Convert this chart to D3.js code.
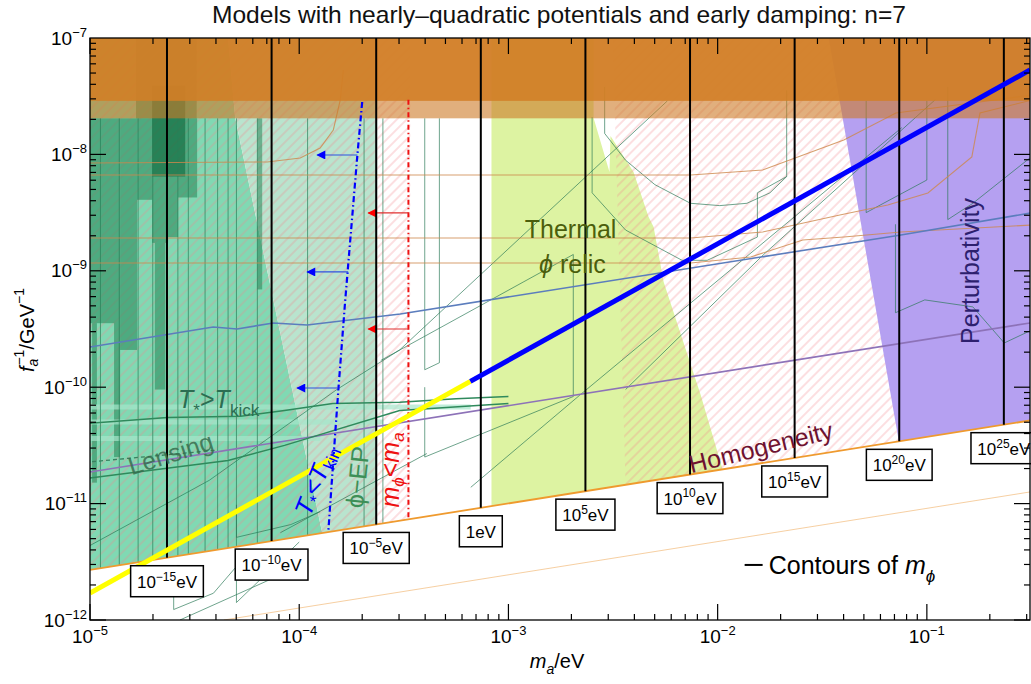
<!DOCTYPE html>
<html>
<head>
<meta charset="utf-8">
<script src="https://cdn.jsdelivr.net/npm/d3@7/dist/d3.min.js"></script>
<style>
  body { margin: 0; background: #fff; }
  svg text { font-family: "Liberation Sans", Arial, "DejaVu Sans", sans-serif; }
</style>
</head>
<body>
<svg id="chart" width="1031" height="684"></svg>
<script>
// Every point is [log10(m_a / eV), log10(f_a^-1 * GeV)].

const titleText = "Models with nearly\u2013quadratic potentials and early damping: n=7";
const xDecades = [-5, -4, -3, -2, -1];
const yDecades = [-12, -11, -10, -9, -8, -7];

// contours of m_phi (label exponent, m_a position, end point on the homogeneity edge)
const mphiExponents = [-15, -10, -5, 0, 5, 10, 15, 20, 25];
const mphiContourMa = [-4.632, -4.132, -3.632, -3.132, -2.632, -2.132, -1.632, -1.132, -0.632];
const mphiContourEnd = [-11.465, -11.322, -11.179, -11.036, -10.893, -10.751, -10.608, -10.465, -10.322];

// benchmark line (yellow part / blue part)
const benchmarkYellow = [[-5, -11.768], [-3.182, -9.950]];
const benchmarkBlue = [[-3.182, -9.950], [-0.507, -7.275]];

// constraint edges
const homogeneityEdge = [[-5, -11.570], [-0.507, -10.286]];
const faintEdge = [[-4.36, -12.0], [-0.507, -10.900]];
const purpleCurve = [[-5, -10.728], [-0.507, -9.448]];
const steelCurve = [[-5, -9.655], [-4.411, -9.483], [-4.297, -9.500], [-4.124, -9.448], [-3.962, -9.466],
  [-3.517, -9.371], [-1.124, -8.692], [-0.502, -8.503]];

// filled regions
const mintRegion = [[-5, -7], [-4.34, -7], [-4.306, -7.687], [-3.890, -11.253], [-5, -11.570]];
const paleRegion = [[-4.34, -7], [-3.627, -7], [-3.627, -11.178], [-3.890, -11.253], [-4.306, -7.687]];
const thermalRegion = [[-3.081, -7], [-2.593, -7], [-2.593, -7.687], [-2.517, -8.151], [-2.512, -7.842],
  [-2.402, -8.151], [-2.330, -8.538], [-2.306, -8.624], [-2.258, -9.096], [-2.081, -10.067],
  [-1.976, -10.706], [-3.081, -11.022]];
const perturbRegion = [[-1.469, -7], [-0.507, -7], [-0.507, -10.286], [-1.134, -10.465]];
const hatchLeft = [[-5, -7], [-3.469, -7], [-3.469, -11.133], [-5, -11.570]];
const hatchRight = [[-2.502, -7], [-0.507, -7], [-0.507, -10.286], [-2.440, -10.839]];
const bandLight = [-7, -7.69];
const bandDark = [-7, -7.54];

// darker excluded strips on the left: [ma0, ma1, top, bottom]
const streaksMid = [
  [-5, -4.885, -7.69, -9.45], [-4.99, -4.967, -9.45, -10.82], [-4.885, -4.856, -7.69, -10.60],
  [-4.856, -4.775, -7.69, -9.68], [-4.775, -4.703, -7.69, -8.39], [-4.703, -4.627, -7.69, -8.76],
  [-4.69, -4.64, -8.76, -10.02], [-4.627, -4.579, -7.69, -8.71], [-4.579, -4.488, -7.69, -8.37],
  [-4.20, -4.177, -7.69, -9.16], [-4.78, -4.49, -7.0, -7.69]
];
const streaksDark = [[-4.703, -4.545, -7.41, -8.19]];

// thin green contours
const greenVerticalMa = [-4.95, -4.86, -4.77, -4.70, -4.58, -4.53, -4.45, -4.39, -4.34, -4.30, -4.20, -3.96, -3.69, -3.60];
const greenVerticalTop = -7.69;
const greenVerticalEnd = [-11.556, -11.530, -11.504, -11.484, -11.450, -11.436, -11.413, -11.396, -11.381, -11.370, -11.342, -11.273, -11.196, -11.170];
const greenPaths = [
  [[-3.40, -7.69], [-3.40, -9.85], [-3.33, -9.79], [-3.33, -7.69]],
  [[-5, -11.36], [-4.43, -10.80], [-3.82, -10.02], [-3.52, -9.68], [-2.24, -7.54]],
  [[-3.40, -10.00], [-3.40, -10.60], [-2.69, -10.08], [-2.69, -8.86], [-3.61, -9.77]],
  [[-2.54, -7.42], [-2.54, -7.82], [-2.44, -8.05], [-2.30, -8.26], [-2.13, -8.42], [-1.99, -8.44],
    [-1.86, -8.42], [-1.75, -8.33], [-1.67, -8.19], [-1.67, -7.45]],
  [[-2.60, -7.68], [-2.60, -8.33], [-2.44, -8.65], [-2.17, -8.91], [-2.05, -8.91], [-1.81, -8.71],
    [-1.81, -8.33], [-1.67, -8.19]],
  [[-1.12, -7.77], [-2.66, -10.07], [-3.18, -10.86]],
  [[-2.44, -10.02], [-1.78, -8.86], [-0.96, -7.53]],
  [[-1.29, -7.54], [-1.29, -8.50], [-1.00, -8.22], [-1.00, -7.54]],
  [[-0.90, -7.42], [-0.90, -8.56], [-0.78, -8.42], [-0.50, -8.02]],
  [[-1.15, -8.60], [-1.15, -9.36], [-1.01, -9.25], [-0.78, -9.31], [-0.63, -9.62], [-0.50, -9.51]],
  [[-4.60, -11.53], [-4.60, -11.91], [-4.41, -11.77], [-4.30, -11.54], [-4.30, -11.85], [-4.00, -11.33]],
  [[-4.57, -12.0], [-4.00, -11.54]],
  [[-4.30, -11.01], [-4.30, -11.29], [-4.04, -11.18], [-3.90, -11.07]],
  [[-4.09, -11.25], [-3.39, -10.57]]
];

// thin orange-brown contours
const brownCurves = [
  [[-5, -8.074], [-4.153, -8.065], [-3.995, -8.031], [-3.900, -7.945], [-3.837, -7.790], [-3.804, -7.533], [-3.789, -7.275]],
  [[-5, -8.177], [-2.129, -8.177], [-1.785, -8.134], [-1.397, -7.876], [-1.148, -7.644], [-0.498, -7.49]],
  [[-5, -8.718], [-2.129, -8.718], [-1.785, -8.667], [-1.416, -8.521], [-1.187, -8.435], [-0.995, -8.332],
    [-0.785, -8.022], [-0.746, -7.644], [-0.498, -7.533]],
  [[-5, -8.933], [-2.129, -8.933], [-1.842, -8.881], [-1.593, -8.735], [-1.397, -8.710], [-1.124, -8.667], [-0.498, -8.607]]
];

// T_* > T_kick contours and lensing edge
const kickUpper = [[-5, -10.31], [-4.63, -10.26], [-4.28, -10.25], [-4.07, -10.20], [-3.84, -10.14], [-3.52, -10.13], [-3.25, -10.10], [-3.00, -10.08]];
const kickLower = [[-5, -10.78], [-4.34, -10.63], [-4.07, -10.50], [-3.52, -10.20], [-3.00, -10.14]];
const lensingEdge = [[-4.99, -10.64], [-4.39, -10.54]];
const paleStripes = [[-10.17, -5, -3.18], [-10.30, -5, -3.60], [-10.44, -5, -3.90]];

// T_* < T_kin and m_phi < m_a boundaries, with arrows [from, to, level]
const tkinCurve = [[-3.699, -7.550], [-3.722, -8.005], [-3.746, -8.521], [-3.780, -9.251], [-3.813, -10.024], [-3.837, -10.625], [-3.861, -11.244]];
const blueArrows = [[-3.722, -3.914, -8.005], [-3.766, -3.962, -9.010], [-3.813, -4.010, -10.007]];
const maBoundCurve = [[-3.478, -7.53], [-3.478, -11.135]];
const redArrows = [[-3.478, -3.670, -8.503], [-3.478, -3.670, -9.500]];

// ---------------------------------------------------------------------------
const svg = d3.select("#chart");
const X0 = 90, X1 = 1030, Y0 = 38, Y1 = 620;
const x = d3.scaleLog().domain([1e-5, Math.pow(10, -0.507)]).range([X0, X1]);
const y = d3.scaleLog().domain([1e-12, 1e-7]).range([Y1, Y0]);
const px = v => x(Math.pow(10, v));
const py = v => y(Math.pow(10, v));
const line = d3.line().x(d => px(d[0])).y(d => py(d[1]));
const poly = pts => line(pts) + "Z";

const defs = svg.append("defs");
defs.append("clipPath").attr("id", "plotClip")
  .append("rect").attr("x", X0).attr("y", Y0).attr("width", X1 - X0).attr("height", Y1 - Y0);
const hatch = defs.append("pattern").attr("id", "hatch").attr("patternUnits", "userSpaceOnUse")
  .attr("width", 7).attr("height", 7).attr("patternTransform", "rotate(45)");
hatch.append("line").attr("x1", 1).attr("y1", 0).attr("x2", 1).attr("y2", 7)
  .attr("stroke", "rgba(245,130,140,0.32)").attr("stroke-width", 1.6);
function marker(id, color) {
  defs.append("marker").attr("id", id).attr("viewBox", "0 0 10 10").attr("refX", 9).attr("refY", 5)
    .attr("markerWidth", 13).attr("markerHeight", 9).attr("markerUnits", "userSpaceOnUse").attr("orient", "auto")
    .append("path").attr("d", "M0,0L10,5L0,10Z").attr("fill", color);
}
marker("arrowBlue", "#0000ff");
marker("arrowRed", "#ff0000");

const plot = svg.append("g").attr("clip-path", "url(#plotClip)");

// regions
plot.append("path").attr("d", poly(mintRegion)).attr("fill", "#80d9b3");
plot.append("path").attr("d", poly(paleRegion)).attr("fill", "#b9e4ce");
plot.append("path").attr("d", poly(thermalRegion)).attr("fill", "#ddf3a2");
[hatchLeft, hatchRight].forEach(h => plot.append("path").attr("d", poly(h)).attr("fill", "url(#hatch)"));
plot.append("path").attr("d", poly(perturbRegion)).attr("fill", "#b5a0f1");

function rect(r) {
  return plot.append("rect").attr("x", px(r[0])).attr("width", px(r[1]) - px(r[0]))
    .attr("y", py(r[2])).attr("height", py(r[3]) - py(r[2]));
}
streaksMid.forEach(r => rect(r).attr("fill", "rgba(25,125,78,0.5)"));
streaksDark.forEach(r => rect(r).attr("fill", "rgba(0,90,45,0.5)"));

// pale horizontal stripes
paleStripes.forEach(s => plot.append("line")
  .attr("x1", px(s[1])).attr("x2", px(s[2])).attr("y1", py(s[0])).attr("y2", py(s[0]))
  .attr("stroke", "rgba(165,230,202,0.7)").attr("stroke-width", 5));

// thin green contours
greenVerticalMa.forEach((m, i) => plot.append("path")
  .attr("d", line([[m, greenVerticalTop], [m, greenVerticalEnd[i]]]))
  .attr("stroke", "rgba(40,128,88,0.7)").attr("stroke-width", 1).attr("fill", "none"));
greenPaths.forEach(p => plot.append("path").attr("d", line(p))
  .attr("stroke", "rgba(40,120,85,0.75)").attr("stroke-width", 0.9).attr("fill", "none"));

// thin orange-brown contours
brownCurves.forEach(p => plot.append("path").attr("d", line(p))
  .attr("stroke", "rgba(205,135,75,0.8)").attr("stroke-width", 1.1).attr("fill", "none"));

plot.append("path").attr("d", line(steelCurve)).attr("stroke", "#5b7dbd").attr("stroke-width", 1.6).attr("fill", "none");
plot.append("path").attr("d", line(purpleCurve)).attr("stroke", "#8d72b8").attr("stroke-width", 1.6).attr("fill", "none");

plot.append("path").attr("d", line(kickUpper)).attr("stroke", "#2f8a5c").attr("stroke-width", 1.5).attr("fill", "none");
plot.append("path").attr("d", line(kickLower)).attr("stroke", "#2f8a5c").attr("stroke-width", 1.5).attr("fill", "none");
plot.append("path").attr("d", line(lensingEdge)).attr("stroke", "#3a8060").attr("stroke-width", 1.3)
  .attr("stroke-dasharray", "4,3").attr("fill", "none");

// upper band
plot.append("rect").attr("x", X0).attr("width", X1 - X0).attr("y", py(bandLight[0])).attr("height", py(bandLight[1]) - py(bandLight[0]))
  .attr("fill", "rgba(205,122,38,0.6)");
plot.append("rect").attr("x", X0).attr("width", X1 - X0).attr("y", py(bandDark[0])).attr("height", py(bandDark[1]) - py(bandDark[0]))
  .attr("fill", "rgba(210,126,38,0.88)");

// homogeneity edge
plot.append("path").attr("d", line(homogeneityEdge)).attr("stroke", "#ef9a2e").attr("stroke-width", 1.8).attr("fill", "none");
plot.append("path").attr("d", line(faintEdge)).attr("stroke", "rgba(240,175,100,0.6)").attr("stroke-width", 1).attr("fill", "none");

// T_* < T_kin and m_phi < m_a boundaries
plot.append("path").attr("d", line(tkinCurve)).attr("stroke", "#0000ff").attr("stroke-width", 2.2)
  .attr("stroke-dasharray", "6,3,1.5,3").attr("fill", "none");
blueArrows.forEach(a => plot.append("line")
  .attr("x1", px(a[0])).attr("x2", px(a[1])).attr("y1", py(a[2])).attr("y2", py(a[2]))
  .attr("stroke", "#3050e0").attr("stroke-width", 1.2).attr("marker-end", "url(#arrowBlue)"));
plot.append("path").attr("d", line(maBoundCurve)).attr("stroke", "#ee1111").attr("stroke-width", 2)
  .attr("stroke-dasharray", "5,3,1.5,3").attr("fill", "none");
redArrows.forEach(a => plot.append("line")
  .attr("x1", px(a[0])).attr("x2", px(a[1])).attr("y1", py(a[2])).attr("y2", py(a[2]))
  .attr("stroke", "#e03030").attr("stroke-width", 1.2).attr("marker-end", "url(#arrowRed)"));

// contours of m_phi
mphiContourMa.forEach((m, i) => plot.append("path")
  .attr("d", line([[m, -7], [m, mphiContourEnd[i]]]))
  .attr("stroke", "#000").attr("stroke-width", 2).attr("fill", "none"));

// benchmark line
plot.append("path").attr("d", line(benchmarkYellow)).attr("stroke", "#ffff00").attr("stroke-width", 5).attr("fill", "none");
plot.append("path").attr("d", line(benchmarkBlue)).attr("stroke", "#0000ff").attr("stroke-width", 5).attr("fill", "none");

// ---------------------------------------------------------------------------
// rich text helper (italic, subscripts, superscripts)
function rich(sel, parts, size) {
  let cur = 0;
  sel.attr("font-size", size);
  parts.forEach(p => {
    const t = typeof p === "string" ? { t: p } : p;
    const ts = sel.append("tspan").text(t.t);
    const target = t.sub ? size * 0.3 : t.sup ? -size * 0.42 : 0;
    if (target !== cur) ts.attr("dy", target - cur);
    cur = target;
    if (t.sub || t.sup) ts.attr("font-size", Math.round(size * 0.68));
    if (t.i) ts.attr("font-style", "italic");
    if (t.dx) ts.attr("dx", t.dx);
  });
  return sel;
}
const minus = "\u2212";
const powParts = e => e === 0 ? ["1eV"] : ["10", { t: (e < 0 ? minus : "") + Math.abs(e), sup: 1 }, "eV"];

// contour labels
const labels = svg.append("g");
mphiExponents.forEach((e, i) => {
  const cx = px(mphiContourMa[i]);
  const top = py(mphiContourEnd[i]) + 8;
  const g = labels.append("g");
  const t = rich(g.append("text").attr("x", cx).attr("y", top + 22).attr("text-anchor", "middle").attr("fill", "#000"), powParts(e), 17);
  const w = t.node().getBBox().width;
  g.insert("rect", "text").attr("x", cx - w / 2 - 6).attr("y", top).attr("width", w + 12).attr("height", 31)
    .attr("fill", "#fff").attr("stroke", "#000").attr("stroke-width", 1.5);
});

function placed(mx, fy, angle, color, parts, size, anchor) {
  const t = labels.append("text")
    .attr("transform", `translate(${px(mx)},${py(fy)}) rotate(${angle})`)
    .attr("text-anchor", anchor || "middle").attr("fill", color);
  return rich(t, parts, size);
}
placed(-2.703, -8.718, 0, "#4b5e0c", ["Thermal"], 25);
placed(-2.694, -9.019, 0, "#4b5e0c", [{ t: "\u03d5", i: 1 }, " relic"], 25);
placed(-0.794, -9.002, -90, "#2d1f6e", ["Perturbativity"], 25).attr("dominant-baseline", "central");
placed(-1.794, -10.514, -13.8, "#6e1230", ["Homogeneity"], 25).attr("dominant-baseline", "central");
placed(-4.615, -10.570, -17.6, "rgba(55,110,78,0.85)", ["Lensing"], 25).attr("dominant-baseline", "central");
placed(-4.579, -10.179, 0, "#2b6e52", [{ t: "T", i: 1 }, { t: "*", sub: 1 }, ">", { t: "T", i: 1 }, { t: "kick", sub: 1 }], 25, "start");
placed(-3.923, -10.797, -68, "#0000ff", [{ t: "T", i: 1 }, { t: "*", sub: 1 }, "<", { t: "T", i: 1 }, { t: "kin", sub: 1 }], 25).attr("dominant-baseline", "central");
placed(-3.722, -10.771, -84, "#3d8f57", ["\u03d5\u2212EP"], 25).attr("dominant-baseline", "central");
placed(-3.565, -10.711, -90, "#ee1111", [{ t: "m", i: 1 }, { t: "\u03d5", sub: 1, i: 1 }, "<", { t: "m", i: 1 }, { t: "a", sub: 1, i: 1 }], 25).attr("dominant-baseline", "central");

// legend
labels.append("line").attr("x1", px(-1.871)).attr("x2", px(-1.785)).attr("y1", py(-11.527)).attr("y2", py(-11.527))
  .attr("stroke", "#000").attr("stroke-width", 2);
placed(-1.756, -11.605, 0, "#000", ["Contours of ", { t: "m", i: 1 }, { t: "\u03d5", sub: 1, i: 1 }], 25, "start");

// ---------------------------------------------------------------------------
// frame and ticks
const axes = svg.append("g");
axes.append("rect").attr("x", X0).attr("y", Y0).attr("width", X1 - X0).attr("height", Y1 - Y0)
  .attr("fill", "none").attr("stroke", "#000").attr("stroke-width", 1.3);
const tick = (x1, y1, x2, y2) => axes.append("line").attr("x1", x1).attr("y1", y1).attr("x2", x2).attr("y2", y2)
  .attr("stroke", "#000").attr("stroke-width", 1.2);
const xMin = Math.log10(x.domain()[0]), xMax = Math.log10(x.domain()[1]);
for (let d = -5; d <= -1; d++) {
  for (let k = 1; k <= 9; k++) {
    const v = d + Math.log10(k);
    if (v < xMin - 1e-9 || v > xMax) continue;
    const len = k === 1 ? 16 : 6;
    const xx = px(v);
    tick(xx, Y1, xx, Y1 - len);
    tick(xx, Y0, xx, Y0 + len);
  }
}
for (let d = -12; d <= -8; d++) {
  for (let k = 1; k <= 9; k++) {
    const v = d + Math.log10(k);
    const len = k === 1 ? 16 : 6;
    const yy = py(v);
    tick(X0, yy, X0 + len, yy);
    tick(X1, yy, X1 - len, yy);
  }
}
xDecades.forEach(d => rich(axes.append("text").attr("x", px(d)).attr("y", Y1 + 23).attr("text-anchor", "middle"),
  ["10", { t: minus + Math.abs(d), sup: 1 }], 19));
yDecades.forEach(d => rich(axes.append("text").attr("x", X0 - 3).attr("y", py(d) + 6.5).attr("text-anchor", "end"),
  ["10", { t: minus + Math.abs(d), sup: 1 }], 19));

// axis titles and title
rich(axes.append("text").attr("x", 557).attr("y", 668).attr("text-anchor", "middle"),
  [{ t: "m", i: 1 }, { t: "a", sub: 1, i: 1 }, "/eV"], 20);
rich(axes.append("text").attr("transform", "translate(27,330) rotate(-90)").attr("text-anchor", "middle").attr("dominant-baseline", "central"),
  [{ t: "f", i: 1 }, { t: "a", sub: 1, i: 1 }, { t: minus + "1", sup: 1, dx: -7 }, "/GeV", { t: minus + "1", sup: 1 }], 20);
svg.append("text").attr("x", 212).attr("y", 23).attr("text-anchor", "start").attr("font-size", 24)
  .attr("textLength", 694).attr("lengthAdjust", "spacingAndGlyphs")
  .attr("fill", "#111").text(titleText);
</script>
</body>
</html>
